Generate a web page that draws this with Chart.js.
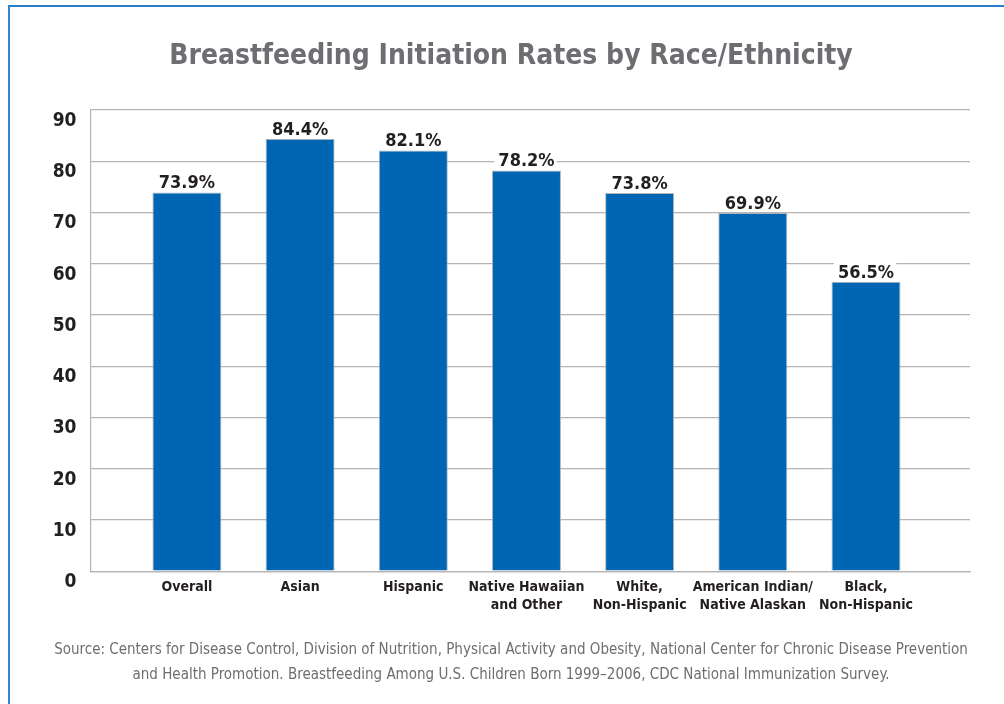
<!DOCTYPE html>
<html>
<head>
<meta charset="utf-8">
<script src="https://cdn.jsdelivr.net/npm/chart.js@4"></script>
<style>
  html, body { margin: 0; padding: 0; background: #fff; }
  #frame {
    position: absolute; left: 8px; top: 5px; width: 996px; height: 699px;
    border-left: 2px solid #3385cc; border-top: 2px solid #2a7cc7;
    box-sizing: border-box;
  }
  #wrap { position: absolute; left: 0; top: 0; width: 1004px; height: 704px; }
</style>
</head>
<body>
<div id="frame"></div>
<div id="wrap"><canvas id="chart" width="1004" height="704"></canvas></div>
<script>
const categories = [
    ['Overall'],
    ['Asian'],
    ['Hispanic'],
    ['Native Hawaiian', 'and Other'],
    ['White,', 'Non-Hispanic'],
    ['American Indian/', 'Native Alaskan'],
    ['Black,', 'Non-Hispanic']
];
const rates = [73.9, 84.4, 82.1, 78.2, 73.8, 69.9, 56.5];
const yMin = 0;
const yMax = 90;
const yStep = 10;

const titleText = 'Breastfeeding Initiation Rates by Race/Ethnicity';
const sourceLines = [
    'Source: Centers for Disease Control, Division of Nutrition, Physical Activity and Obesity, National Center for Chronic Disease Prevention',
    'and Health Promotion. Breastfeeding Among U.S. Children Born 1999\u20132006, CDC National Immunization Survey.'
];

const FONT = '"Liberation Sans Narrow", "DejaVu Sans Condensed", "Noto Sans", sans-serif';
const DARK = '#231f20';
const GRAY_TEXT = '#6d6e71';
const GRID = '#b5b5b5';

// value labels with a white knock-out behind them
const valueLabels = {
    id: 'valueLabels',
    afterDatasetsDraw(chart) {
        const { ctx } = chart;
        const meta = chart.getDatasetMeta(0);
        ctx.save();
        ctx.font = 'bold 18px ' + FONT;
        ctx.textAlign = 'center';
        ctx.textBaseline = 'alphabetic';
        meta.data.forEach((bar, i) => {
            const text = rates[i].toFixed(1) + '%';
            const w = ctx.measureText(text).width;
            const base = bar.y - 4;
            ctx.fillStyle = '#fff';
            ctx.fillRect(bar.x - w / 2 - 4, base - 15, w + 6, 17);
            ctx.fillStyle = DARK;
            ctx.fillText(text, bar.x, base);
        });
        ctx.restore();
    }
};

const ctx = document.getElementById('chart').getContext('2d');
new Chart(ctx, {
    type: 'bar',
    data: {
        datasets: [{
            data: rates.map((v, i) => ({ x: i, y: v })),
            backgroundColor: '#0066b3',
            borderColor: 'rgba(175, 175, 175, 0.9)',
            borderWidth: 1,
            barPercentage: 0.61,
            categoryPercentage: 1
        }]
    },
    options: {
        responsive: false,
        animation: false,
        layout: { padding: { left: 52, right: 34, top: 0, bottom: 0 } },
        plugins: {
            legend: { display: false },
            tooltip: { enabled: false },
            title: {
                display: true,
                text: titleText,
                color: GRAY_TEXT,
                font: { family: FONT, size: 28, weight: 'bold', lineHeight: 1.2 },
                padding: { top: 40, bottom: 36.4 }
            },
            subtitle: {
                display: true,
                position: 'bottom',
                text: sourceLines,
                color: GRAY_TEXT,
                font: { family: FONT, size: 15, weight: 'normal', lineHeight: 25 / 15 },
                padding: { top: 15.4, bottom: 16.5 }
            }
        },
        scales: {
            x: {
                type: 'linear',
                offset: false,
                min: -0.852,
                max: 6.919,
                afterBuildTicks: (scale) => {
                    scale.ticks = categories.map((_, i) => ({ value: i }));
                },
                grid: { display: false, drawTicks: false },
                border: { display: true, color: GRID, width: 1.2 },
                ticks: {
                    autoSkip: false,
                    maxRotation: 0,
                    padding: 8,
                    color: DARK,
                    font: { family: FONT, size: 14, weight: 'bold', lineHeight: 1.25 },
                    callback: (value) => categories[value]
                }
            },
            y: {
                min: yMin,
                max: yMax,
                afterFit: (scale) => {
                    scale.width = 38.5;
                },
                ticks: {
                    stepSize: yStep,
                    padding: 14,
                    labelOffset: 11,
                    color: DARK,
                    font: { family: FONT, size: 19, weight: 'bold' }
                },
                grid: { color: GRID, lineWidth: 1.2, drawTicks: false },
                border: { display: true, color: GRID, width: 1.2 }
            }
        }
    },
    plugins: [valueLabels]
});
</script>
</body>
</html>
